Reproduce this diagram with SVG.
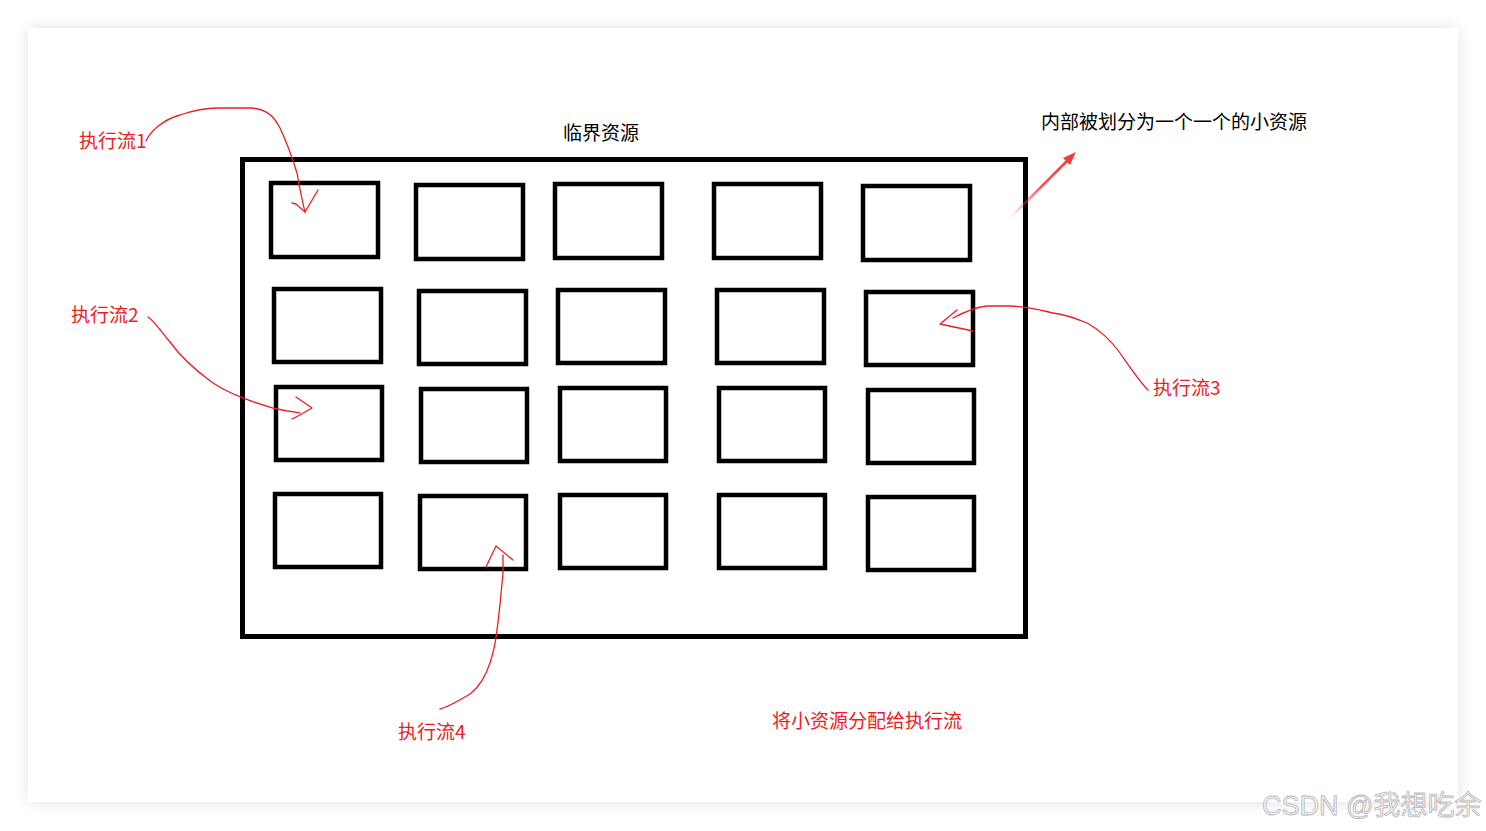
<svg xmlns="http://www.w3.org/2000/svg" width="1486" height="831" viewBox="0 0 1486 831">
<style>
.box{fill:none;stroke:#000;stroke-width:4.5}
.frame{fill:none;stroke:#000;stroke-width:5}
.ink{fill:none;stroke:#ed1c24;stroke-width:1.3;stroke-linecap:round;stroke-linejoin:round}
.t{font-family:"Microsoft YaHei","Noto Sans CJK SC",sans-serif;font-size:19px}
.red{fill:#ed1c24}
.blk{fill:#000}
</style>
<defs>
<filter id="sh" x="-5%" y="-5%" width="110%" height="110%">
<feGaussianBlur stdDeviation="8"/>
</filter>
<linearGradient id="ag" x1="1010" y1="218" x2="1075" y2="153" gradientUnits="userSpaceOnUse">
<stop offset="0" stop-color="#f03c3c" stop-opacity="0"/>
<stop offset="0.5" stop-color="#f03c3c" stop-opacity="0.9"/>
<stop offset="1" stop-color="#f03c3c"/>
</linearGradient>
</defs>
<rect width="1486" height="831" fill="#fff"/>
<rect x="28" y="28" width="1430" height="774" fill="#000" opacity="0.12" filter="url(#sh)"/>
<rect x="28" y="28" width="1430" height="774" fill="#fff"/>

<g id="critical-resource">
<rect class="frame" x="242.5" y="159.5" width="783" height="477"/>
<text class="t blk" x="563" y="140">临界资源</text>
</g>

<g id="small-resources">
<rect class="box" x="271" y="183" width="107" height="74"/>
<rect class="box" x="416" y="185" width="107" height="74"/>
<rect class="box" x="555" y="184" width="107" height="74"/>
<rect class="box" x="714" y="184" width="107" height="74"/>
<rect class="box" x="863" y="186" width="107" height="74"/>
<rect class="box" x="274" y="289" width="107" height="73"/>
<rect class="box" x="419" y="291" width="107" height="73"/>
<rect class="box" x="558" y="290" width="107" height="73"/>
<rect class="box" x="717" y="290" width="107" height="73"/>
<rect class="box" x="866" y="292" width="107" height="73"/>
<rect class="box" x="276" y="387" width="106" height="73"/>
<rect class="box" x="421" y="389" width="106" height="73"/>
<rect class="box" x="560" y="388" width="106" height="73"/>
<rect class="box" x="719" y="388" width="106" height="73"/>
<rect class="box" x="868" y="390" width="106" height="73"/>
<rect class="box" x="275" y="494" width="106" height="73"/>
<rect class="box" x="420" y="496" width="106" height="73"/>
<rect class="box" x="560" y="495" width="106" height="73"/>
<rect class="box" x="719" y="495" width="106" height="73"/>
<rect class="box" x="868" y="497" width="106" height="73"/>
</g>

<g id="note">
<text class="t blk" x="1041" y="129">内部被划分为一个一个的小资源</text>
</g>

<g id="flow1"><text class="t red" x="79" y="148">执行流1</text></g>
<g id="flow2"><text class="t red" x="71" y="322">执行流2</text></g>
<g id="flow3"><text class="t red" x="1153" y="395">执行流3</text></g>
<g id="flow4"><text class="t red" x="398" y="739">执行流4</text></g>
<g id="caption"><text class="t red" x="772" y="728">将小资源分配给执行流</text></g>

<g id="connectors">
<path class="ink" d="M146,141 C150,132 162,120 180,115 C195,110 205,108 217,108 L252,108 C262,109 272,112 280,128 C288,145 293,160 297,173 C300,190 302,200 305,212"/>
<path class="ink" d="M292,203 L296,204 L305,212 L318,190"/>
<path class="ink" d="M148,317 C155,322 160,330 170,342 C180,356 195,370 213,383 C228,393 245,400 273,408 C285,411 293,412 300,413"/>
<path class="ink" d="M296,397 L312,408 L300,415 L292,419"/>
<path class="ink" d="M1148,390 C1140,382 1132,370 1120,353 C1112,342 1100,330 1087,323 C1075,318 1062,314 1053,313 C1040,310 1030,307 1010,306 L987,306 C978,307 970,309 953,318"/>
<path class="ink" d="M957,310 L940,324 L973,331"/>
<path class="ink" d="M440,709 C448,707 460,700 470,694 C478,688 485,678 490,663 C494,650 496,640 497,630 C499,615 501,595 503,573 L503,555"/>
<path class="ink" d="M486,567 L496,546 L513,560"/>
<line x1="1010" y1="218" x2="1068" y2="160" stroke="url(#ag)" stroke-width="2.5"/>
<polygon points="1076,152 1063,158 1070,165" fill="#f03c3c"/>
</g>

<text x="1262" y="815" font-family="'Liberation Sans','Noto Sans CJK SC',sans-serif" font-size="27" fill="#f4f4f4" stroke="#b8b8b8" stroke-width="0.8">CSDN @我想吃余</text>
</svg>
